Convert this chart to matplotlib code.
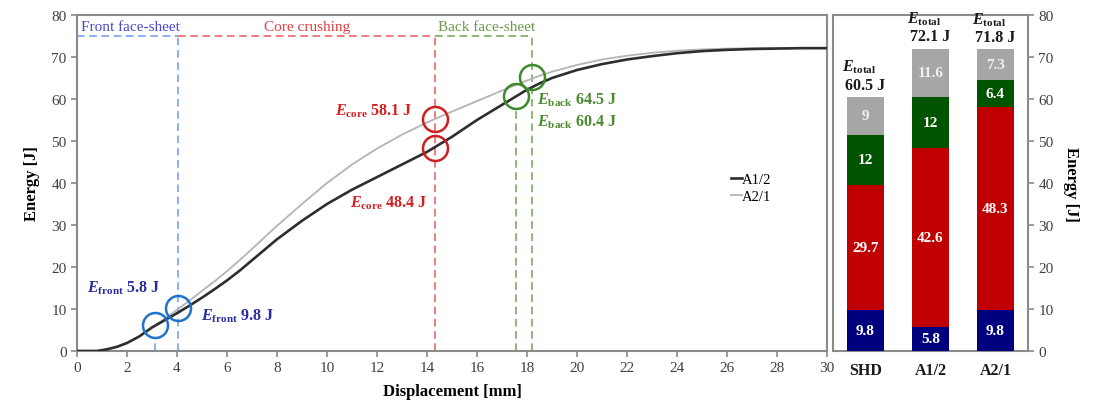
import matplotlib
matplotlib.use("Agg")
import matplotlib.pyplot as plt
import numpy as np

plt.rcParams['font.family'] = ['Liberation Serif', 'DejaVu Serif']
plt.rcParams['mathtext.fontset'] = 'custom'
plt.rcParams['mathtext.rm'] = 'Liberation Serif:bold'
plt.rcParams['mathtext.it'] = 'Liberation Serif:italic:bold'
plt.rcParams['mathtext.bf'] = 'Liberation Serif:bold'

# ---- curve data (Displacement [mm], Energy [J]) ----
disp_a12 = [0, 0.8, 1.2, 1.6, 2.0, 2.5, 3.0, 3.5, 4.0, 4.5, 5.0, 5.5, 6.0, 6.5, 7.0, 8.0, 9.0, 10.0,
            11.0, 12.0, 13.0, 14.0, 15.0, 16.0, 17.0, 17.5, 18.0, 18.5, 19.0, 20.0, 21.0, 22.0,
            23.0, 24.0, 25.0, 26.0, 27.0, 28.0, 29.0, 30.0]
energy_a12 = [0, 0, 0.4, 1.0, 1.9, 3.5, 5.6, 7.3, 9.0, 10.8, 12.7, 14.7, 16.8, 19.1, 21.6, 26.6, 31.0, 35.0,
              38.4, 41.4, 44.4, 47.4, 51.0, 55.0, 58.6, 60.4, 62.2, 63.7, 65.0, 66.9, 68.3, 69.4,
              70.2, 70.9, 71.4, 71.7, 71.9, 72.0, 72.1, 72.1]

disp_a21 = [0, 0.8, 1.2, 1.6, 2.0, 2.5, 3.0, 3.5, 4.0, 4.5, 5.0, 5.5, 6.0, 6.5, 7.0, 8.0, 9.0, 10.0,
            11.0, 12.0, 13.0, 14.0, 15.0, 16.0, 17.0, 18.0, 18.5, 19.0, 20.0, 21.0, 22.0,
            23.0, 24.0, 25.0, 26.0, 27.0, 28.0, 29.0, 30.0]
energy_a21 = [0, 0, 0.4, 1.0, 1.9, 3.5, 5.6, 7.6, 9.8, 12.0, 14.3, 16.6, 19.0, 21.6, 24.3, 29.8, 35.0, 40.0,
              44.4, 48.2, 51.5, 54.4, 57.0, 59.5, 62.0, 64.4, 65.5, 66.5, 68.1, 69.4, 70.3,
              71.0, 71.5, 71.8, 72.0, 72.1, 72.1, 72.1, 72.1]

# ---- phase boundaries ----
x_front_a12 = 3.1
x_front_a21 = 4.05
x_core = 14.3
x_back_a12 = 17.55
x_back_a21 = 18.2
phase_y = 75

# ---- circle markers (x, y) ----
circ_front = [(3.1, 6.2), (4.05, 10.2)]
circ_core = [(14.3, 55.2), (14.3, 48.4)]
circ_back = [(17.55, 60.6), (18.2, 65.3)]

# ---- stacked bar data ----
bar_labels = ['SHD', 'A1/2', 'A2/1']
e_front = [9.8, 5.8, 9.8]
e_core = [29.7, 42.6, 48.3]
e_back = [12, 12, 6.4]
e_rest = [9, 11.6, 7.3]
e_total = [60.5, 72.1, 71.8]

fig = plt.figure(figsize=(11.05, 4.14), dpi=100)
ax = fig.add_axes([0.0697, 0.1498, 0.6787, 0.8116])
axb = fig.add_axes([0.7538, 0.1498, 0.1765, 0.8116])

spine_c = '#8a8a8a'
tick_c = '#404040'

ax.plot(disp_a21, energy_a21, color='#b4b4b4', lw=1.3, label='A2/1', zorder=3)
ax.plot(disp_a12, energy_a12, color='#2e2e2e', lw=1.9, label='A1/2', zorder=4)

blue_d = '#6f9be6'
red_d = '#e85a5a'
green_d = '#72a455'
dash = (0, (5, 3))
ax.plot([x_front_a21, x_front_a21], [0, phase_y], color=blue_d, lw=1.1, ls=dash)
ax.plot([0, x_front_a21], [phase_y, phase_y], color=blue_d, lw=1.1, ls=dash)
ax.plot([x_front_a12, x_front_a12], [0, 3.3], color=blue_d, lw=1.1, ls=dash)
ax.plot([x_core, x_core], [0, phase_y], color=red_d, lw=1.1, ls=dash)
ax.plot([x_front_a21, x_core], [phase_y, phase_y], color=red_d, lw=1.1, ls=dash)
ax.plot([x_back_a21, x_back_a21], [0, phase_y], color=green_d, lw=1.1, ls=dash)
ax.plot([x_core, x_back_a21], [phase_y, phase_y], color=green_d, lw=1.1, ls=dash)
ax.plot([x_back_a12, x_back_a12], [0, 57.8], color=green_d, lw=1.1, ls=dash)

for (cx, cy) in circ_front:
    ax.plot(cx, cy, 'o', ms=18, mfc='none', mec='#1f73cf', mew=1.8, zorder=5)
for (cx, cy) in circ_core:
    ax.plot(cx, cy, 'o', ms=18, mfc='none', mec='#cc1f1f', mew=1.8, zorder=5)
for (cx, cy) in circ_back:
    ax.plot(cx, cy, 'o', ms=18, mfc='none', mec='#3d8a2a', mew=1.8, zorder=5)

ax.text(0.15, 75.6, 'Front face-sheet', color='#4a4ac8', fontsize=11, ha='left', va='bottom')
ax.text(9.2, 75.6, 'Core crushing', color='#e04040', fontsize=11, ha='center', va='bottom')
ax.text(16.4, 75.6, 'Back face-sheet', color='#6a9a4a', fontsize=11, ha='center', va='bottom')

lab_kw = dict(fontsize=11.5, fontweight='bold')
ax.text(0.4, 15.2, r'$E_{\rm front}$ 5.8 J', color='#2a2aa0', ha='left', va='center', **lab_kw)
ax.text(4.95, 8.6, r'$E_{\rm front}$ 9.8 J', color='#2a2aa0', ha='left', va='center', **lab_kw)
ax.text(13.4, 57.2, r'$E_{\rm core}$ 58.1 J', color='#d42020', ha='right', va='center', **lab_kw)
ax.text(14.0, 35.4, r'$E_{\rm core}$ 48.4 J', color='#d42020', ha='right', va='center', **lab_kw)
ax.text(18.4, 60.0, r'$E_{\rm back}$ 64.5 J', color='#4c8a30', ha='left', va='center', **lab_kw)
ax.text(18.4, 54.6, r'$E_{\rm back}$ 60.4 J', color='#4c8a30', ha='left', va='center', **lab_kw)

leg = ax.legend(handles=[ax.lines[1], ax.lines[0]], loc='center left',
                bbox_to_anchor=(0.855, 0.485), frameon=False, handlelength=0.7,
                handletextpad=0.05, labelspacing=0.25, fontsize=10.5)

ax.set_xlim(0, 30)
ax.set_ylim(0, 80)
ax.set_xticks(np.arange(0, 31, 2))
ax.set_yticks(np.arange(0, 81, 10))
ax.set_xlabel('Displacement [mm]', fontsize=12, fontweight='bold', labelpad=6)
ax.set_ylabel('Energy [J]', fontsize=12, fontweight='bold', labelpad=8)
for sp in ax.spines.values():
    sp.set_color(spine_c)
    sp.set_linewidth(1.5)
ax.tick_params(direction='out', length=4, width=1.2, color=spine_c, labelcolor=tick_c, labelsize=11)

# ---- stacked bars ----
xpos = np.arange(len(bar_labels))
w = 0.58
cols = ['#00007f', '#c00000', '#005400', '#a6a6a6']
segs = [e_front, e_core, e_back, e_rest]
bottom = np.zeros(len(bar_labels))
for seg, c in zip(segs, cols):
    axb.bar(xpos, seg, width=w, bottom=bottom, color=c, edgecolor='none', zorder=3)
    for i, v in enumerate(seg):
        txt_c = '#f0f0f0' if c == '#a6a6a6' else 'white'
        axb.text(xpos[i], bottom[i] + v / 2, f'{v:g}', color=txt_c, ha='center', va='center',
                 fontsize=11, fontweight='bold', zorder=4)
    bottom = bottom + np.array(seg)

for i, t in enumerate(e_total):
    top = bottom[i]
    axb.text(xpos[i], top + 1.0, f'{t:.1f} J', ha='center', va='bottom', fontsize=11.5,
             fontweight='bold', color='#1a1a1a')
    axb.text(xpos[i] - 0.1, top + 5.2, r'$E_{\rm total}$', ha='center', va='bottom', fontsize=11.5,
             color='#1a1a1a')

axb.set_xlim(-0.5, 2.5)
axb.set_ylim(0, 80)
axb.set_xticks(xpos)
axb.set_xticklabels(bar_labels, fontweight='bold', fontsize=11.5)
axb.set_yticks(np.arange(0, 81, 10))
axb.yaxis.tick_right()
axb.yaxis.set_label_position('right')
axb.set_ylabel('Energy [J]', fontsize=12, fontweight='bold', rotation=270, labelpad=18)
for sp in axb.spines.values():
    sp.set_color(spine_c)
    sp.set_linewidth(1.5)
axb.tick_params(axis='y', direction='out', length=4, width=1.2, color=spine_c,
                labelcolor=tick_c, labelsize=11, left=False, right=True)
axb.tick_params(axis='x', length=0, pad=8, labelcolor='#1a1a1a')

fig.savefig('out.png', dpi=100)
